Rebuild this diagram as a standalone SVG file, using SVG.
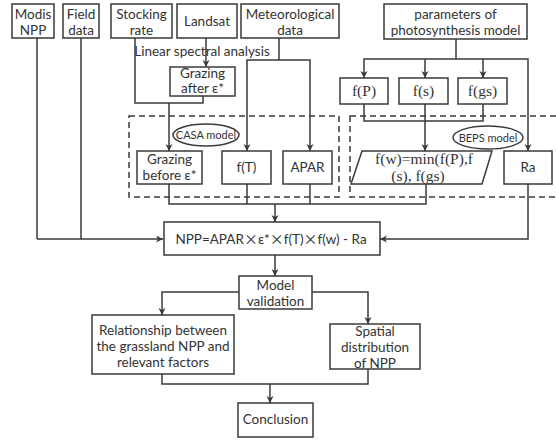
<svg xmlns="http://www.w3.org/2000/svg" width="556" height="440" viewBox="0 0 556 440">
<style>
.box{fill:#fff;stroke:#3a3a3a;stroke-width:1.5}
.dash{fill:none;stroke:#3a3a3a;stroke-width:1.5;stroke-dasharray:6,4}
.ln{fill:none;stroke:#3a3a3a;stroke-width:1.5}
.ar{fill:none;stroke:#3a3a3a;stroke-width:1.5;marker-end:url(#ah)}
text{font-family:Lato,"Liberation Sans",sans-serif;font-size:13.5px;fill:#333;text-anchor:middle}
.serif{font-family:"Liberation Serif",serif;font-size:15.5px}
.small{font-size:11px}
.cjk{font-family:"Noto Sans CJK SC",sans-serif;font-size:14px}
</style>
<defs>
<marker id="ah" markerUnits="userSpaceOnUse" markerWidth="10" markerHeight="10" viewBox="-8 -5 9 10" refX="0" refY="0" orient="auto">
<path d="M0,0 L-7,-3.5 L-5,0 L-7,3.5 Z" fill="#3a3a3a"/>
</marker>
</defs>
<rect width="556" height="440" fill="#fff"/>
<g id="groups">
<rect id="casa-group" class="dash" x="129" y="116" width="210" height="81"/>
<rect id="beps-group" class="dash" x="350" y="116" width="212" height="81"/>
</g>
<g id="connectors">
<polyline class="ln" points="37,38 37,239"/>
<polyline class="ln" points="81,38 81,239"/>
<polyline class="ar" points="37,239 163,239"/>
<polyline class="ln" points="135,38 135,103 203,103 203,96"/>
<polyline class="ar" points="169,103 169,151"/>
<polyline class="ar" points="206,38 206,67"/>
<polyline class="ln" points="279,38 279,60"/>
<polyline class="ar" points="279,60 247,60 247,151"/>
<polyline class="ar" points="279,60 310,60 310,151"/>
<polyline class="ln" points="456,39 456,59"/>
<polyline class="ar" points="456,59 364,59 364,78"/>
<polyline class="ar" points="425,59 425,78"/>
<polyline class="ar" points="456,59 528,59 528,151"/>
<polyline class="ar" points="483,59 483,78"/>
<polyline class="ln" points="364,104 364,121 483,121 483,104"/>
<polyline class="ar" points="425,104 425,151"/>
<polyline class="ln" points="169,184 169,204 426,204 426,184"/>
<polyline class="ln" points="247,184 247,204"/>
<polyline class="ln" points="310,184 310,204"/>
<polyline class="ar" points="275,204 275,222"/>
<polyline class="ar" points="528,184 528,239 380,239"/>
<polyline class="ar" points="275,255 275,276"/>
<polyline class="ar" points="239,292 162,292 162,315"/>
<polyline class="ar" points="311,292 368,292 368,324"/>
<polyline class="ln" points="162,374 162,384 368,384 368,369"/>
<polyline class="ar" points="270,384 270,403"/>
</g>
<g id="modis"><rect class="box" x="12" y="4" width="42" height="34"/><text x="33" y="19">Modis</text><text x="33" y="35">NPP</text></g>
<g id="field"><rect class="box" x="63" y="4" width="36" height="34"/><text x="81" y="19">Field</text><text x="81" y="35">data</text></g>
<g id="stocking"><rect class="box" x="111" y="4" width="61" height="34"/><text x="141.5" y="19">Stocking</text><text x="141.5" y="35">rate</text></g>
<g id="landsat"><rect class="box" x="177" y="4" width="60" height="34"/><text x="207" y="26">Landsat</text></g>
<g id="meteo"><rect class="box" x="241" y="4" width="98" height="34"/><text x="290" y="19">Meteorological</text><text x="290" y="35">data</text></g>
<g id="params"><rect class="box" x="384" y="4" width="143" height="35"/><text x="455.5" y="19">parameters of</text><text x="455.5" y="35">photosynthesis model</text></g>
<g id="lsa-label"><text x="202" y="56">Linear spectral analysis</text></g>
<g id="grazing-after"><rect class="box" x="170" y="67" width="65" height="29"/><text x="202.5" y="78">Grazing</text><text x="202.5" y="93">after ε*</text></g>
<g id="fp"><rect class="box" x="340" y="78" width="48" height="26"/><text class="serif" x="364" y="96">f(P)</text></g>
<g id="fs"><rect class="box" x="399" y="78" width="49" height="26"/><text class="serif" x="423.5" y="96">f(s)</text></g>
<g id="fgs"><rect class="box" x="458" y="78" width="49" height="26"/><text class="serif" x="482.5" y="96">f(gs)</text></g>
<g id="casa-label"><ellipse class="box" cx="206" cy="135" rx="33" ry="11"/><text class="small" x="206" y="139">CASA model</text></g>
<g id="beps-label"><ellipse class="box" cx="488" cy="137.5" rx="35" ry="11.5"/><text class="small" x="488" y="141.5">BEPS model</text></g>
<g id="grazing-before"><rect class="box" x="137" y="151" width="65" height="33"/><text x="169.5" y="164">Grazing</text><text x="169.5" y="180">before ε*</text></g>
<g id="ft"><rect class="box" x="222" y="151" width="49" height="33"/><text x="246.5" y="172">f(T)</text></g>
<g id="apar"><rect class="box" x="283" y="151" width="49" height="33"/><text x="307.5" y="172">APAR</text></g>
<g id="fw"><polygon class="box" points="362,151 492,151 482,184 351,184"/><text class="serif" x="424" y="164">f(w)=min(f(P),f</text><text class="serif" x="418" y="181">(s), f(gs)</text></g>
<g id="ra"><rect class="box" x="504" y="151" width="48" height="33"/><text x="528" y="172">Ra</text></g>
<g id="npp"><rect class="box" x="164" y="222" width="216" height="33"/><text x="271" y="244">NPP=APAR<tspan class="cjk">×</tspan>ε*<tspan class="cjk">×</tspan>f(T)<tspan class="cjk">×</tspan>f(w) - Ra</text></g>
<g id="validation"><rect class="box" x="239" y="276" width="73" height="33"/><text x="275.5" y="290">Model</text><text x="275.5" y="306">validation</text></g>
<g id="relationship"><rect class="box" x="92" y="315" width="142" height="59"/><text x="163" y="335">Relationship between</text><text x="163" y="351">the grassland NPP and</text><text x="163" y="367">relevant factors</text></g>
<g id="spatial"><rect class="box" x="330" y="324" width="90" height="45"/><text x="375" y="336">Spatial</text><text x="375" y="352">distribution</text><text x="375" y="368">of NPP</text></g>
<g id="conclusion"><rect class="box" x="238" y="403" width="75" height="34"/><text x="275.5" y="424">Conclusion</text></g>
</svg>
